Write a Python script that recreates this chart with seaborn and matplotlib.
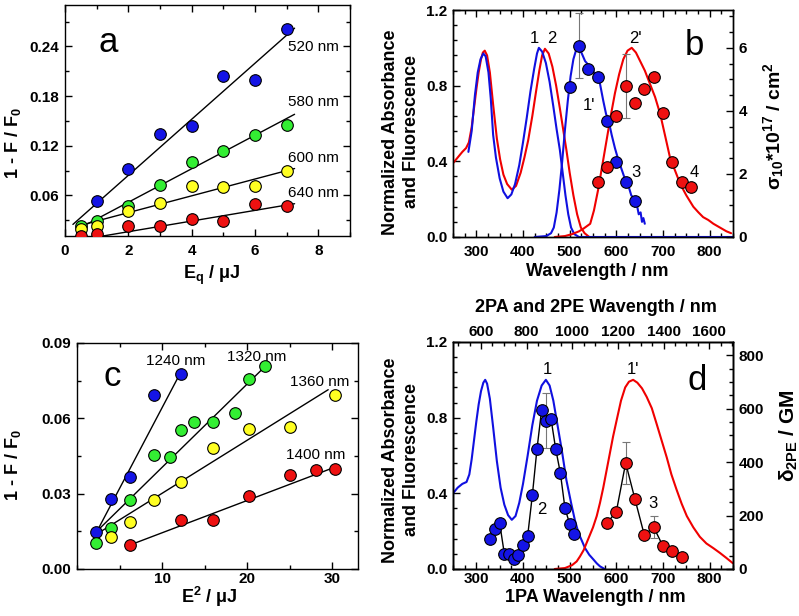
import numpy as np
import pandas as pd
import matplotlib
matplotlib.use('Agg')
import matplotlib.pyplot as plt
import seaborn as sns
from matplotlib.ticker import MultipleLocator, FormatStrFormatter

# ---------------- data: panel a ----------------
A_X = [0.5, 1, 2, 3, 4, 5, 6, 7]
A_520_X = [1, 2, 3, 4, 5, 6, 7]
A_520 = [0.053, 0.092, 0.134, 0.144, 0.204, 0.200, 0.261]
A_580 = [0.0226, 0.0287, 0.047, 0.072, 0.1005, 0.1135, 0.133, 0.145]
A_600 = [0.020, 0.0226, 0.0417, 0.051, 0.0713, 0.070, 0.071, 0.089]
A_640 = [0.0105, 0.0138, 0.0226, 0.0235, 0.0316, 0.0296, 0.0494, 0.0478]
A_FIT_X = {'520': [0.25, 7.25], '580': [0.5, 7.25], '600': [0.5, 7.25], '640': [0.5, 7.25]}
A_FIT_Y = {'520': [0.025, 0.262], '580': [0.0214, 0.158], '600': [0.024, 0.0925], '640': [0.0065, 0.050]}
A_LABELS = ['520 nm', '580 nm', '600 nm', '640 nm']

# ---------------- data: panel b ----------------
B_ABS1_NM = [283, 290, 297, 303, 309, 315, 320, 326, 331, 336, 342, 350, 358, 367, 375, 383, 392, 400,
             408, 416, 424, 430, 434, 441, 449, 457, 465, 472, 479, 485, 491, 497, 503, 510, 520, 850]
B_ABS1 = [0.45, 0.56, 0.75, 0.87, 0.94, 0.97, 0.955, 0.87, 0.73, 0.54, 0.42, 0.31, 0.24, 0.205, 0.225,
          0.28, 0.38, 0.50, 0.63, 0.77, 0.89, 0.97, 1.0, 0.98, 0.92, 0.82, 0.69, 0.57, 0.46, 0.34, 0.22,
          0.12, 0.05, 0.015, 0.0, 0.0]
B_ABS2_NM = [250, 260, 270, 278, 284, 290, 295, 300, 305, 310, 314, 318, 323, 329, 336, 344, 351, 358,
             366, 376, 385, 395, 403, 411, 420, 428, 435, 441, 447, 455, 463, 471, 479, 486, 493, 500,
             508, 516, 524, 532, 542]
B_ABS2 = [0.39, 0.42, 0.45, 0.47, 0.50, 0.58, 0.68, 0.78, 0.87, 0.94, 0.975, 0.985, 0.96, 0.87, 0.70,
          0.52, 0.41, 0.33, 0.28, 0.25, 0.27, 0.34, 0.42, 0.51, 0.64, 0.77, 0.88, 0.96, 0.995, 0.97,
          0.90, 0.80, 0.68, 0.57, 0.46, 0.34, 0.22, 0.12, 0.05, 0.02, 0.0]
B_EM1_NM = [425, 450, 460, 466, 472, 478, 484, 490, 496, 502, 508, 514, 520, 526, 533, 540, 548, 556,
            565, 572, 578, 583, 590, 597, 604, 611, 618, 626, 632, 636, 640, 644, 648, 652, 655, 658, 661]
B_EM1 = [0.0, 0.005, 0.02, 0.05, 0.13, 0.25, 0.40, 0.57, 0.72, 0.85, 0.94, 0.99, 1.0, 0.97, 0.93, 0.91,
         0.89, 0.85, 0.81, 0.72, 0.65, 0.62, 0.54, 0.47, 0.41, 0.36, 0.31, 0.27, 0.22, 0.21, 0.16, 0.17,
         0.12, 0.13, 0.08, 0.10, 0.07]
B_EM2_NM = [468, 490, 505, 520, 530, 544, 552, 561, 570, 579, 588, 597, 606, 615, 624, 633, 642, 651,
            661, 672, 683, 694, 705, 715, 726, 737, 750, 765, 776, 786, 797, 808, 822, 836, 846]
B_EM2 = [0.0, 0.005, 0.015, 0.03, 0.045, 0.07, 0.14, 0.25, 0.38, 0.51, 0.64, 0.76, 0.86, 0.94, 0.985,
         1.0, 0.975, 0.93, 0.88, 0.81, 0.74, 0.65, 0.53, 0.42, 0.35, 0.28, 0.22, 0.16, 0.13, 0.105, 0.09,
         0.07, 0.05, 0.03, 0.02]
B_DOT_BLUE_NM = [500, 520, 540, 560, 580, 600, 620, 640]
B_DOT_BLUE = [4.75, 6.07, 5.33, 5.07, 3.69, 2.37, 1.73, 1.15]
B_DOT_RED_NM = [560, 580, 600, 620, 640, 660, 680, 700, 720, 740, 760]
B_DOT_RED = [1.75, 2.21, 3.84, 4.79, 4.26, 4.68, 5.07, 3.92, 2.37, 1.73, 1.58]
B_ERR_NM = [520, 620]
B_ERR_Y = [6.07, 4.79]
B_ERR = [1.02, 1.0]

# ---------------- data: panel c ----------------
C_1240_X = [2.25, 4, 6.25, 9, 12.25]
C_1240 = [0.0149, 0.0279, 0.0368, 0.0691, 0.0778]
C_1320_X = [2.25, 4, 6.25, 9, 10.9, 12.25, 13.7, 16, 18.5, 20.25, 22.1]
C_1320 = [0.0103, 0.0165, 0.0275, 0.0452, 0.0447, 0.0555, 0.0585, 0.0585, 0.0621, 0.0757, 0.0807]
C_1360_X = [4, 6.25, 9, 12.25, 16, 20.25, 25, 30.25]
C_1360 = [0.0129, 0.0186, 0.0273, 0.0348, 0.0481, 0.0559, 0.0564, 0.0694]
C_1400_X = [6.25, 12.25, 16, 20.25, 25, 28.1, 30.25]
C_1400 = [0.0096, 0.0196, 0.0196, 0.0292, 0.0375, 0.0395, 0.0399]
C_FIT_X = {'1240': [2.33, 12.1], '1320': [2.5, 22.1], '1360': [2.5, 29.5], '1400': [6.25, 29.7]}
C_FIT_Y = {'1240': [0.0149, 0.0778], '1320': [0.0156, 0.0807], '1360': [0.0143, 0.0714], '1400': [0.0096, 0.0398]}
C_LABELS = ['1240 nm', '1320 nm', '1360 nm', '1400 nm']

# ---------------- data: panel d ----------------
D_ABS_NM = [250, 260, 270, 279, 285, 290, 295, 300, 305, 310, 315, 319, 323, 329, 336, 344, 352, 360,
            368, 376, 384, 392, 400, 410, 420, 430, 440, 449, 457, 465, 474, 483, 493, 503, 511, 519,
            526, 533, 542, 551, 558, 565, 575]
D_ABS = [0.40, 0.43, 0.45, 0.46, 0.50, 0.58, 0.68, 0.78, 0.87, 0.94, 0.985, 1.0, 0.98, 0.90, 0.75, 0.57,
         0.43, 0.34, 0.285, 0.26, 0.28, 0.35, 0.45, 0.60, 0.76, 0.89, 0.97, 1.0, 0.97, 0.89, 0.76, 0.63,
         0.47, 0.35, 0.26, 0.19, 0.15, 0.11, 0.075, 0.05, 0.03, 0.014, 0.0]
D_EM_NM = [468, 490, 505, 515, 522, 530, 540, 550, 558, 565, 572, 579, 586, 593, 601, 610, 619, 627,
           636, 645, 655, 665, 676, 686, 697, 708, 718, 729, 740, 751, 765, 779, 793, 808, 822, 836, 850]
D_EM = [0.0, 0.005, 0.02, 0.04, 0.066, 0.10, 0.16, 0.22, 0.28, 0.35, 0.43, 0.52, 0.61, 0.70, 0.79,
        0.89, 0.96, 0.99, 1.0, 0.985, 0.955, 0.91, 0.85, 0.77, 0.68, 0.59, 0.50, 0.42, 0.345, 0.28, 0.22,
        0.17, 0.135, 0.11, 0.085, 0.058, 0.03]
D_BLUE_NM = [330, 340, 350, 360, 370, 380, 390, 400, 410, 420, 430, 440, 450, 460, 470, 480, 490, 500, 510]
D_BLUE_GM = [112, 151, 172, 57, 57, 36, 53, 91, 124, 276, 450, 597, 556, 563, 450, 360, 227, 169, 130]
D_RED_NM = [580, 600, 620, 640, 660, 680, 700, 720, 740]
D_RED_GM = [172, 215, 397, 261, 127, 157, 85, 66, 46]
D_ERR_NM = [450, 620, 680]
D_ERR_Y = [556, 397, 157]
D_ERR = [103, 80, 40]

# ---------------- style ----------------
sns.set_theme(style='ticks', rc={'axes.edgecolor': 'black', 'xtick.color': 'black',
                                 'ytick.color': 'black', 'text.color': 'black',
                                 'axes.labelcolor': 'black', 'axes.linewidth': 1.0})
plt.rcParams['font.family'] = ['Liberation Sans', 'DejaVu Sans']
plt.rcParams['mathtext.fontset'] = 'custom'
plt.rcParams['mathtext.rm'] = 'Liberation Sans'
plt.rcParams['mathtext.it'] = 'Liberation Sans:italic'
plt.rcParams['mathtext.bf'] = 'Liberation Sans:bold'

BLUE = '#1414e6'
GREEN = '#33ee33'
YELLOW = '#ffff22'
RED = '#ee1111'
LBLUE = '#1010e0'
LRED = '#f00000'
TICK_FS = 11
LAB_FS = 13
ANN_FS = 11
BIG_FS = 25
DOT_S = 70

W, H = 799, 616
fig = plt.figure(figsize=(W / 100, H / 100), dpi=100)


def px_axes(x0, y0, x1, y1):
    return fig.add_axes([x0 / W, 1 - y1 / H, (x1 - x0) / W, (y1 - y0) / H])


def ftext(x, y, s, **kw):
    fig.text(x / W, 1 - y / H, s, ha='center', va='center', **kw)


def tick_style(ax, left=True, right=True, top=True, bottom=True, xpad=4, ypad=4):
    ax.tick_params(which='both', direction='in', left=left, right=right, top=top, bottom=bottom,
                   labelsize=TICK_FS, width=1.0)
    ax.tick_params(axis='x', pad=xpad)
    ax.tick_params(axis='y', pad=ypad)
    ax.tick_params(which='major', length=5)
    ax.tick_params(which='minor', length=3)


def line(ax, x, y, color, lw=1.0, z=2):
    sns.lineplot(x=x, y=y, color=color, lw=lw, ax=ax, sort=False, estimator=None,
                 legend=False, zorder=z)


def dots(ax, x, y, color):
    sns.scatterplot(x=x, y=y, color=color, s=DOT_S, edgecolor='black', linewidth=0.8,
                    ax=ax, zorder=5, legend=False)


# ---------------- panel a ----------------
axA = px_axes(65, 5, 350, 236)
for key, c, xs, ys in [('520', BLUE, A_520_X, A_520), ('580', GREEN, A_X, A_580),
                       ('600', YELLOW, A_X, A_600), ('640', RED, A_X, A_640)]:
    line(axA, A_FIT_X[key], A_FIT_Y[key], 'black', 1.0)
    dots(axA, xs, ys, c)
axA.set_xlim(0, 9)
axA.set_ylim(0.011, 0.29)
axA.xaxis.set_major_locator(MultipleLocator(2))
axA.xaxis.set_minor_locator(MultipleLocator(1))
axA.yaxis.set_major_locator(MultipleLocator(0.06))
axA.yaxis.set_minor_locator(MultipleLocator(0.03))
axA.yaxis.set_major_formatter(FormatStrFormatter('%.2f'))
tick_style(axA, xpad=5.5)
for lab, yb in zip(A_LABELS, [0.2347, 0.1686, 0.1008, 0.0584]):
    axA.text(7.05, yb, lab, fontsize=ANN_FS, ha='left', va='baseline')
axA.text(1.36, 0.2334, 'a', fontsize=BIG_FS, ha='center', va='baseline')
axA.set_xlabel('')
axA.set_ylabel('')
ftext(212, 275, r'$\mathbf{E_q}$ / μJ', fontsize=LAB_FS, fontweight='bold')
ftext(13, 143, r'1 - F / F$_\mathbf{0}$', fontsize=LAB_FS, fontweight='bold', rotation=90)

# ---------------- panel b ----------------
axB = px_axes(453, 10, 733, 237)
line(axB, B_ABS2_NM, B_ABS2, LRED, 1.5)
line(axB, B_ABS1_NM, B_ABS1, LBLUE, 1.5)
line(axB, B_EM2_NM, B_EM2, LRED, 1.5)
line(axB, B_EM1_NM, B_EM1, LBLUE, 1.5)
axB.set_xlim(250, 850)
axB.set_ylim(0, 1.2)
axB.xaxis.set_major_locator(MultipleLocator(100))
axB.xaxis.set_minor_locator(MultipleLocator(25))
axB.yaxis.set_major_locator(MultipleLocator(0.4))
axB.yaxis.set_minor_locator(MultipleLocator(0.08))
axB.yaxis.set_major_formatter(FormatStrFormatter('%.1f'))
tick_style(axB, right=False, xpad=5.5)
axB2 = axB.twinx()
axB2.errorbar(B_ERR_NM, B_ERR_Y, yerr=B_ERR, fmt='none', ecolor='#777777', elinewidth=0.8,
              capsize=3, capthick=0.8, zorder=3)
dots(axB2, B_DOT_BLUE_NM, B_DOT_BLUE, BLUE)
dots(axB2, B_DOT_RED_NM, B_DOT_RED, RED)
axB2.set_ylim(0, 7.2)
axB2.yaxis.set_major_locator(MultipleLocator(2))
axB2.yaxis.set_minor_locator(MultipleLocator(0.5))
tick_style(axB2, left=False, top=False, bottom=False)
axB2.set_ylabel('')
for s, x, y in [('1', 424, 1.027), ('2', 462, 1.027), ("2'", 640, 1.027), ("1'", 541, 0.671),
                ('3', 642, 0.319), ('4', 766, 0.319)]:
    axB.text(x, y, s, fontsize=ANN_FS + 1, ha='center', va='baseline', zorder=6)
axB.text(768, 0.962, 'b', fontsize=BIG_FS, ha='center', va='baseline')
axB.set_xlabel('')
axB.set_ylabel('')
ftext(597, 272, 'Wavelength / nm', fontsize=LAB_FS, fontweight='bold')
ftext(401, 132, 'Normalized Absorbance\nand Fluorescence', fontsize=LAB_FS, fontweight='bold',
      rotation=90, linespacing=1.25)
ftext(774, 126, r'σ$_\mathbf{10}$*10$^\mathbf{17}$ / cm$^\mathbf{2}$', fontsize=LAB_FS + 1,
      fontweight='bold', rotation=90)

# ---------------- panel c ----------------
axC = px_axes(77, 343, 358, 569)
for key, c, xs, ys in [('1240', BLUE, C_1240_X, C_1240), ('1320', GREEN, C_1320_X, C_1320),
                       ('1360', YELLOW, C_1360_X, C_1360), ('1400', RED, C_1400_X, C_1400)]:
    line(axC, C_FIT_X[key], C_FIT_Y[key], 'black', 1.0)
    dots(axC, xs, ys, c)
axC.set_xlim(0, 33)
axC.set_ylim(0, 0.09)
axC.set_xticks([10, 20, 30])
axC.xaxis.set_minor_locator(MultipleLocator(5))
axC.yaxis.set_major_locator(MultipleLocator(0.03))
axC.yaxis.set_minor_locator(MultipleLocator(0.015))
axC.yaxis.set_major_formatter(FormatStrFormatter('%.2f'))
tick_style(axC, xpad=2.5)
for lab, x, y in zip(C_LABELS, [8.16, 17.67, 24.98, 24.6], [0.0814, 0.083, 0.0727, 0.0439]):
    axC.text(x, y, lab, fontsize=ANN_FS, ha='left', va='baseline')
axC.text(4.08, 0.073, 'c', fontsize=BIG_FS, ha='center', va='baseline')
axC.set_xlabel('')
axC.set_ylabel('')
ftext(209, 597, r'E$^\mathbf{2}$ / μJ', fontsize=LAB_FS, fontweight='bold')
ftext(13, 465, r'1 - F / F$_\mathbf{0}$', fontsize=LAB_FS, fontweight='bold', rotation=90)

# ---------------- panel d ----------------
axD = px_axes(453, 342, 733, 569)
line(axD, D_ABS_NM, D_ABS, LBLUE, 1.5)
line(axD, D_EM_NM, D_EM, LRED, 1.5)
axD.set_xlim(250, 850)
axD.set_ylim(0, 1.2)
axD.xaxis.set_major_locator(MultipleLocator(100))
axD.xaxis.set_minor_locator(MultipleLocator(25))
axD.yaxis.set_major_locator(MultipleLocator(0.4))
axD.yaxis.set_minor_locator(MultipleLocator(0.08))
axD.yaxis.set_major_formatter(FormatStrFormatter('%.1f'))
tick_style(axD, right=False, top=False, xpad=2.5)
axD2 = axD.twinx()
line(axD2, D_BLUE_NM, D_BLUE_GM, 'black', 1.0, z=3)
line(axD2, D_RED_NM, D_RED_GM, 'black', 1.0, z=3)
axD2.errorbar(D_ERR_NM, D_ERR_Y, yerr=D_ERR, fmt='none', ecolor='#777777', elinewidth=0.8,
              capsize=3, capthick=0.8, zorder=3)
dots(axD2, D_BLUE_NM, D_BLUE_GM, BLUE)
dots(axD2, D_RED_NM, D_RED_GM, RED)
axD2.set_ylim(0, 850)
axD2.yaxis.set_major_locator(MultipleLocator(200))
axD2.yaxis.set_minor_locator(MultipleLocator(50))
tick_style(axD2, left=False, top=False, bottom=False)
axD2.set_ylabel('')
axD3 = axD.twiny()
axD3.set_xlim(477, 1704)
axD3.xaxis.set_major_locator(MultipleLocator(200))
axD3.xaxis.set_minor_locator(MultipleLocator(50))
tick_style(axD3, left=False, right=False, bottom=False, top=True, xpad=2.5)
for s, x, y in [('1', 452, 1.033), ("1'", 635, 1.033), ('2', 441, 0.2915), ('3', 679, 0.3216)]:
    axD.text(x, y, s, fontsize=ANN_FS + 1, ha='center', va='baseline', zorder=6)
axD.text(773, 0.945, 'd', fontsize=BIG_FS, ha='center', va='baseline')
axD.set_xlabel('')
axD.set_ylabel('')
ftext(595, 597, '1PA Wavelength / nm', fontsize=LAB_FS, fontweight='bold')
ftext(596, 308, '2PA and 2PE Wavength / nm', fontsize=LAB_FS, fontweight='bold')
ftext(401, 460, 'Normalized Absorbance\nand Fluorescence', fontsize=LAB_FS, fontweight='bold',
      rotation=90, linespacing=1.25)
ftext(789, 436, r'δ$_\mathbf{2PE}$ / GM', fontsize=LAB_FS + 2, fontweight='bold', rotation=90)

fig.canvas.draw()
for ax in [axA, axB, axB2, axC, axD, axD2, axD3]:
    for lab in ax.get_xticklabels() + ax.get_yticklabels():
        lab.set_fontweight('bold')

fig.savefig('out.png', dpi=100)
